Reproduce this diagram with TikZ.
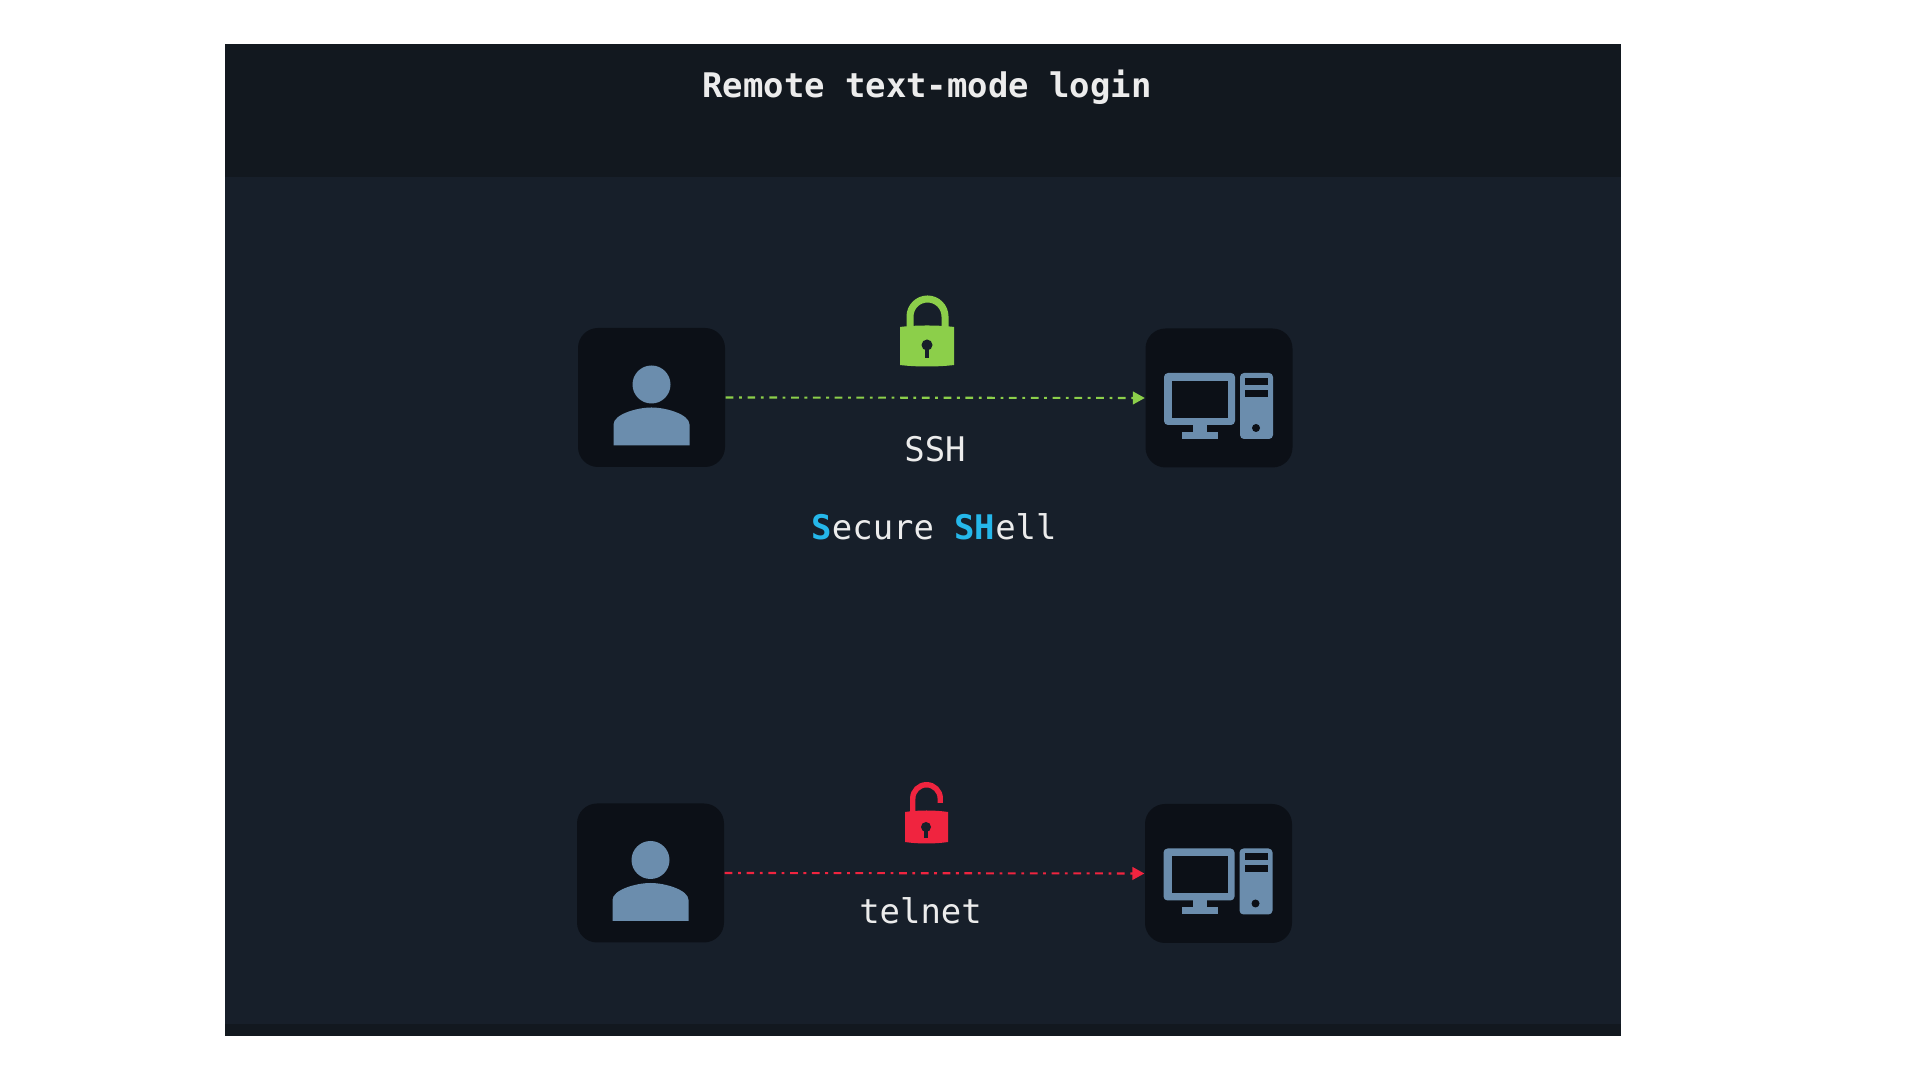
\documentclass[tikz,border=0pt]{standalone}
\usepackage{fontspec}
\setmonofont{DejaVu Sans Mono}
\usepackage{xcolor}
\usetikzlibrary{
  arrows.meta,
  positioning,
}
\definecolor{panelbg}{HTML}{171F2A}
\definecolor{headerbg}{HTML}{12181F}
\definecolor{boxbg}{HTML}{0C1017}
\definecolor{iconblue}{HTML}{6B8DAD}
\definecolor{lockgreen}{HTML}{8CCF4A}
\definecolor{lockred}{HTML}{F0243F}
\definecolor{accentblue}{HTML}{25B7EA}
\definecolor{labeltext}{HTML}{ECECEC}
\tikzset{
  iconbox/.style={fill=boxbg, rounded corners=0.2cm, inner sep=0pt,
    minimum width=1.47cm, minimum height=1.39cm},
  label/.style={anchor=base, inner sep=0pt, text=labeltext,
    font=\ttfamily\fontsize{9.65}{11}\selectfont},
  link/.style={line width=0.6pt, -{Triangle[length=3.4pt,width=3.6pt]},
    dash pattern=on 2.2pt off 1.6pt on 0.8pt off 1.6pt},
  pics/personicon/.style={code={
    \fill[iconblue] (0,0.13) circle (0.19);
    \fill[iconblue] (-0.38,-0.48) -- (-0.38,-0.27)
      .. controls (-0.38,-0.17) and (-0.15,-0.10) .. (0,-0.10)
      .. controls (0.15,-0.10) and (0.38,-0.17) .. (0.38,-0.27)
      -- (0.38,-0.48) -- cycle;
  }},
  pics/computericon/.style={code={
    % monitor
    \fill[iconblue, rounded corners=0.04cm] (-0.55,-0.27) rectangle (0.16,0.25);
    \fill[boxbg] (-0.47,-0.20) rectangle (0.09,0.17);
    \fill[iconblue] (-0.26,-0.39) rectangle (-0.12,-0.27);
    \fill[iconblue] (-0.37,-0.41) rectangle (-0.01,-0.34);
    % tower
    \fill[iconblue, rounded corners=0.04cm] (0.21,-0.41) rectangle (0.54,0.25);
    \fill[boxbg] (0.26,0.13) rectangle (0.49,0.20);
    \fill[boxbg] (0.26,0.01) rectangle (0.49,0.08);
    \fill[boxbg] (0.37,-0.30) circle (0.04);
  }},
}
\begin{document}
\begin{tikzpicture}
  \useasboundingbox (0,0) rectangle (19.2,10.8);
  % panel and bands
  \fill[panelbg] (2.25,0.44) rectangle (16.21,10.36);
  \fill[headerbg] (2.25,9.03) rectangle (16.21,10.36);
  \fill[headerbg] (2.25,0.44) rectangle (16.21,0.56);
  \node[label, font=\ttfamily\bfseries\fontsize{9.65}{11}\selectfont] (title) at (9.27,9.825) {Remote text-mode login};
  % ssh row
  \node[iconbox] (userssh) at (6.515,6.825) {};
  \node[iconbox] (hostssh) at (12.19,6.82) {};
  \pic at (userssh) {personicon};
  \pic at (hostssh) {computericon};
  \draw[link, lockgreen] (userssh.east) -- (hostssh.west);
  \node[label] (sshname) at (9.35,6.185) {SSH};
  \node[label] (sshlong) at (9.34,5.405) {\textcolor{accentblue}{\textbf{S}}ecure \textcolor{accentblue}{\textbf{SH}}ell};
  % closed lock
  \draw[lockgreen, line width=2pt] (9.10,7.5) -- (9.10,7.635)
    arc[start angle=180, end angle=0, radius=0.175] -- (9.45,7.5);
  \fill[lockgreen] (9.00,7.53) -- (9.00,7.15)
    .. controls (9.15,7.13) and (9.39,7.13) .. (9.54,7.15)
    -- (9.54,7.53)
    .. controls (9.39,7.55) and (9.15,7.55) .. cycle;
  \fill[panelbg] (9.27,7.35) circle (0.055);
  \fill[panelbg] (9.25,7.22) rectangle (9.29,7.35);
  % telnet row
  \node[iconbox] (usertelnet) at (6.505,2.07) {};
  \node[iconbox] (hosttelnet) at (12.185,2.065) {};
  \pic at (usertelnet) {personicon};
  \pic at (hosttelnet) {computericon};
  \draw[link, lockred] (usertelnet.east) -- (hosttelnet.west);
  \node[label] (telnetname) at (9.205,1.565) {telnet};
  % open lock
  \draw[lockred, line width=1.55pt] (9.1275,2.6) -- (9.1275,2.815)
    arc[start angle=180, end angle=0, radius=0.1375] -- (9.4025,2.77);
  \fill[lockred] (9.05,2.68) -- (9.05,2.38)
    .. controls (9.18,2.36) and (9.35,2.36) .. (9.48,2.38)
    -- (9.48,2.68)
    .. controls (9.35,2.70) and (9.18,2.70) .. cycle;
  \fill[panelbg] (9.26,2.53) circle (0.05);
  \fill[panelbg] (9.24,2.42) rectangle (9.28,2.53);
\end{tikzpicture}
\end{document}
